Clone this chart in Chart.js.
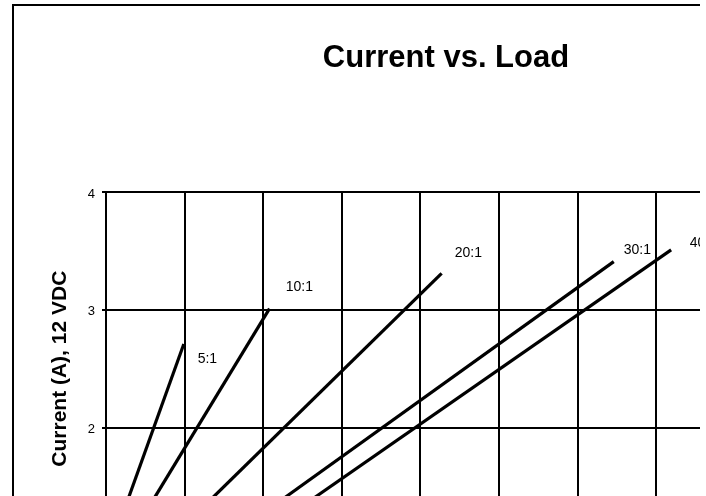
<!DOCTYPE html>
<html><head><meta charset="utf-8">
<script src="https://cdn.jsdelivr.net/npm/chart.js@4.4.0/dist/chart.umd.min.js"></script>
<style>
html,body{margin:0;padding:0;background:#fff;overflow:hidden;}
#wrap{position:relative;width:700px;height:496px;overflow:hidden;background:#fff;}
canvas{display:block;}
</style></head><body>
<div id="wrap"><canvas id="c" width="892" height="560" style="width:892px;height:560px"></canvas></div>
<script>
// Series names (gear ratios)
const seriesNames = ['5:1', '10:1', '20:1', '30:1', '40:1'];
// Load values (x) where each line starts / ends
const loadStart = [0.7, 2.5, 7.4, 14.3, 17.8];
const loadEnd = [9.9, 20.8, 42.7, 64.6, 71.9];
// Current values (A) at start / end
const currentStart = [1, 1, 1, 1, 1];
const currentEnd = [2.71, 3.01, 3.31, 3.41, 3.51];
// Where the ratio labels sit (data units)
const labelLoad = [12.9, 24.6, 46.1, 67.6, 76.0];
const labelCurrent = [2.58, 3.19, 3.48, 3.51, 3.57];
// Y tick labels shown
const yTickValues = [2, 3, 4];

const FONT = "'Liberation Sans', Arial, Helvetica, sans-serif";

const datasets = seriesNames.map((n, i) => ({
  label: n,
  data: [{x: loadStart[i], y: currentStart[i]}, {x: loadEnd[i], y: currentEnd[i]}],
  showLine: true,
  borderColor: '#000',
  backgroundColor: '#000',
  borderWidth: 3.2,
  pointRadius: 0,
  fill: false,
  tension: 0
}));

const outerBorder = {
  id: 'outerBorder',
  beforeDraw(chart) {
    const ctx = chart.ctx;
    ctx.save();
    ctx.strokeStyle = '#000';
    ctx.lineWidth = 2;
    ctx.strokeRect(13, 5, chart.width + 20, chart.height + 20);
    ctx.restore();
  }
};

const seriesLabels = {
  id: 'seriesLabels',
  afterDatasetsDraw(chart) {
    const {ctx, scales: {x, y}} = chart;
    ctx.save();
    ctx.font = '14px ' + FONT;
    ctx.fillStyle = '#000';
    ctx.textAlign = 'center';
    ctx.textBaseline = 'middle';
    seriesNames.forEach((n, i) => {
      ctx.fillText(n, x.getPixelForValue(labelLoad[i]), y.getPixelForValue(labelCurrent[i]));
    });
    ctx.restore();
  }
};

new Chart(document.getElementById('c'), {
  type: 'scatter',
  data: {datasets},
  plugins: [outerBorder, seriesLabels],
  options: {
    responsive: false,
    animation: false,
    devicePixelRatio: 1,
    layout: {padding: {left: 0, right: 0, top: 0, bottom: 12}},
    plugins: {
      legend: {display: false},
      tooltip: {enabled: false},
      title: {
        display: true,
        text: 'Current vs. Load',
        color: '#000',
        font: {family: FONT, size: 31, weight: 'bold'},
        padding: {top: 40, bottom: 115}
      }
    },
    scales: {
      x: {
        type: 'linear', min: 0, max: 100,
        ticks: {display: false, stepSize: 10},
        grid: {color: '#000', lineWidth: 2, drawTicks: false},
        border: {display: false}
      },
      y: {
        type: 'linear', min: 1, max: 4,
        afterBuildTicks: s => { s.ticks = yTickValues.map(v => ({value: v})); },
        afterFit: s => { s.width = 106; },
        ticks: {color: '#000', font: {family: FONT, size: 13}, padding: 7, labelOffset: 2},
        grid: {color: '#000', lineWidth: 2, tickLength: 4},
        border: {color: '#000', width: 2},
        title: {
          display: true,
          text: 'Current (A), 12 VDC',
          color: '#000',
          font: {family: FONT, size: 21, weight: 'bold'},
          padding: {top: 48, bottom: 0}
        }
      }
    }
  }
});
</script>
</body></html>
